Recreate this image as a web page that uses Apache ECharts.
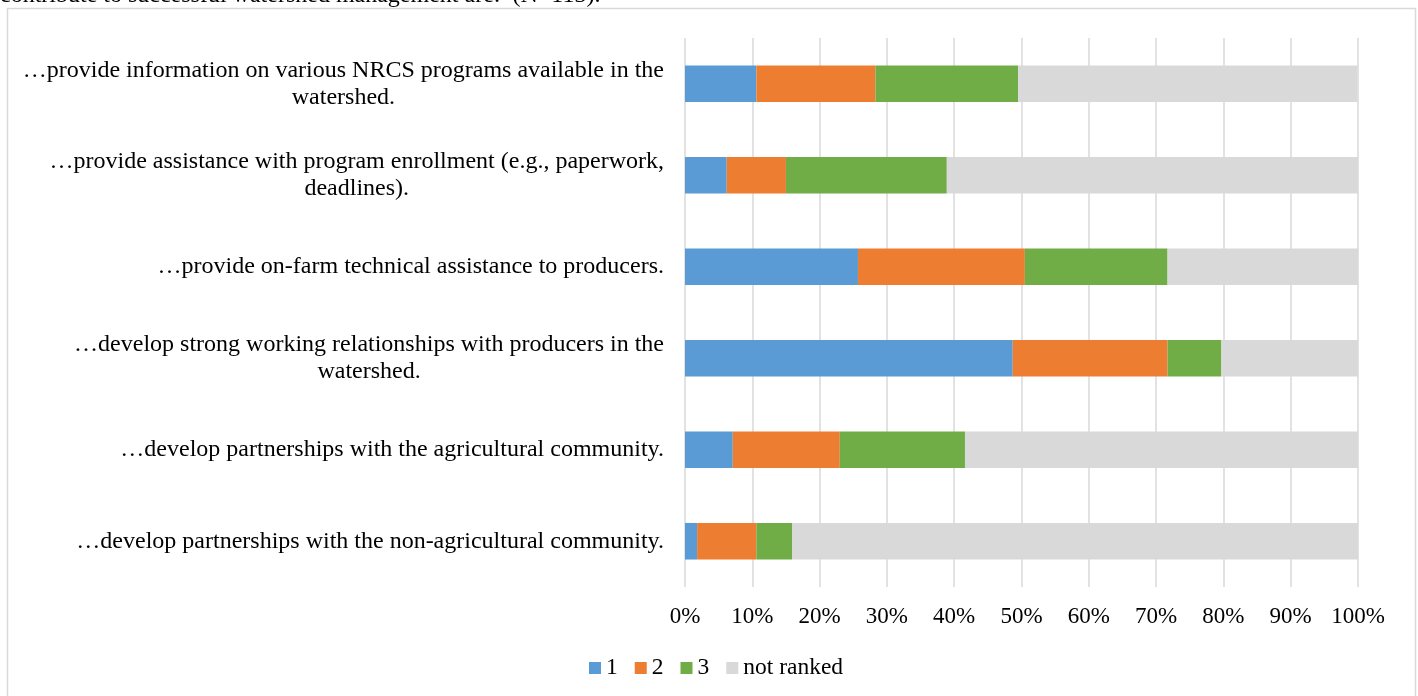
<!DOCTYPE html>
<html>
<head>
<meta charset="utf-8">
<script src="https://cdn.jsdelivr.net/npm/echarts@6/dist/echarts.min.js"></script>
<style>
html,body{margin:0;padding:0;background:#fff;}
#main{width:1418px;height:696px;}
</style>
</head>
<body>
<div id="main"></div>
<script>
// Categories, top to bottom
var categories = [
  "\u2026provide information on various NRCS programs available in the\nwatershed.",
  "\u2026provide assistance with program enrollment (e.g., paperwork,\ndeadlines).",
  "\u2026provide on-farm technical assistance to producers.",
  "\u2026develop strong working relationships with producers in the\nwatershed.",
  "\u2026develop partnerships with the agricultural community.",
  "\u2026develop partnerships with the non-agricultural community."
];
var seriesNames = ["1", "2", "3", "not ranked"];
var rank1 = [10.6, 6.2, 25.7, 48.7, 7.1, 1.8];
var rank2 = [17.7, 8.8, 24.8, 23.0, 15.9, 8.8];
var rank3 = [21.2, 23.9, 21.2, 8.0, 18.6, 5.3];
var notRanked = [50.4, 61.1, 28.3, 20.4, 58.4, 84.1];
var xTicks = [0, 10, 20, 30, 40, 50, 60, 70, 80, 90, 100];
var captionText = "contribute to successful watershed management are:  (N=113).";

var FONT = "'Liberation Serif', 'Times New Roman', serif";
var colors = ["#5b9bd5", "#ed7d31", "#70ad47", "#d9d9d9"];
var values = [rank1, rank2, rank3, notRanked];

var chart = echarts.init(document.getElementById('main'), null, {renderer: 'canvas'});
var option = {
  backgroundColor: '#fff',
  animation: false,
  color: colors,
  graphic: [
    {type: 'text', left: 0, top: -16, style: {text: captionText, font: "24px " + FONT, fill: '#000'}},
    {type: 'rect', shape: {x: 7.5, y: 8.5, width: 1408, height: 700}, style: {fill: 'none', stroke: '#d9d9d9', lineWidth: 1.5}, z: -1}
  ],
  grid: {left: 685, right: 60, top: 38, bottom: 109, containLabel: false},
  legend: {
    data: seriesNames,
    bottom: 11,
    left: 584,
    icon: 'rect',
    itemWidth: 12,
    itemHeight: 12,
    itemGap: 17,
    textStyle: {fontFamily: FONT, fontSize: 23.5, color: '#000'}
  },
  xAxis: {
    type: 'value',
    min: 0,
    max: 100,
    interval: 10,
    axisLine: {show: false},
    axisTick: {show: false},
    splitLine: {show: true, lineStyle: {color: '#d9d9d9', width: 1.5}},
    axisLabel: {
      margin: 18,
      fontFamily: FONT,
      fontSize: 23,
      color: '#000',
      formatter: function (v) { return xTicks.indexOf(v) >= 0 ? v + '%' : ''; }
    }
  },
  yAxis: {
    type: 'category',
    inverse: true,
    data: categories,
    axisLine: {show: false},
    axisTick: {show: false},
    axisLabel: {
      margin: 21,
      align: 'right',
      color: '#000',
      fontFamily: FONT,
      fontSize: 24,
      lineHeight: 27,
      formatter: function (v) {
        return v.split('\n').map(function (l) { return '{c|' + l + '}'; }).join('\n');
      },
      rich: {c: {align: 'center', fontFamily: FONT, fontSize: 24, lineHeight: 27, color: '#000'}}
    }
  },
  series: seriesNames.map(function (n, i) {
    return {
      name: n,
      type: 'bar',
      stack: 'total',
      barWidth: '40%',
      data: values[i],
      itemStyle: {color: colors[i]}
    };
  })
};
chart.setOption(option);
</script>
</body>
</html>
